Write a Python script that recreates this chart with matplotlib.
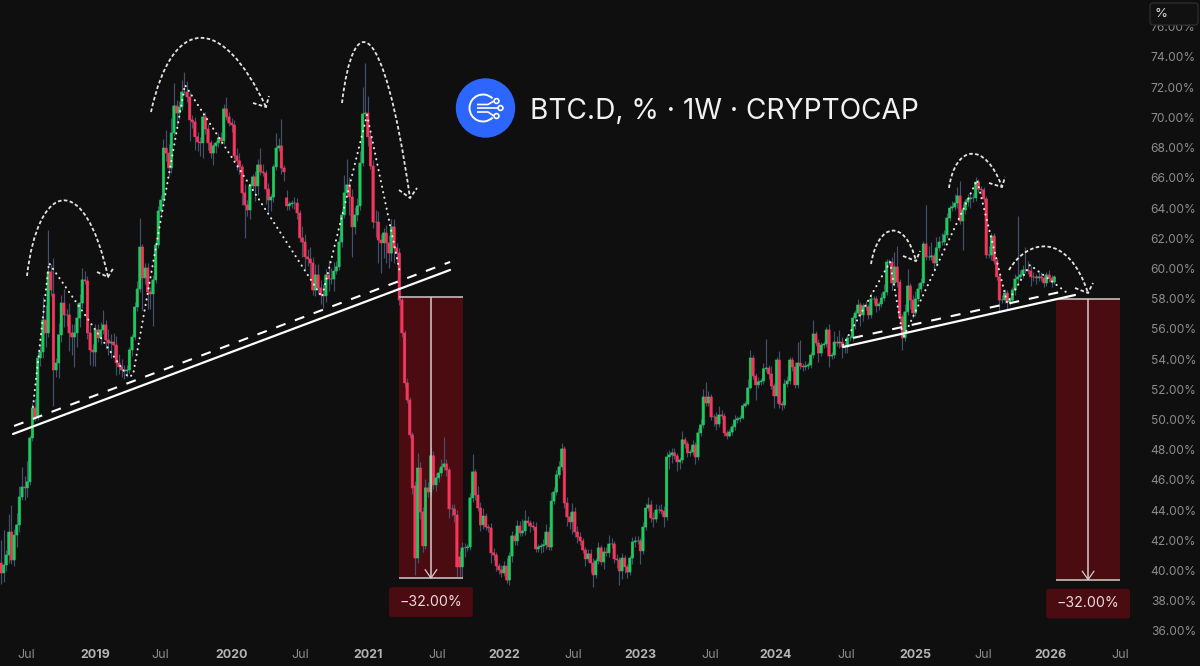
import numpy as np
import matplotlib
matplotlib.use("Agg")
import matplotlib.pyplot as plt
from matplotlib.patches import Circle, FancyBboxPatch, PathPatch, Rectangle, Arc
from matplotlib.path import Path
from matplotlib.transforms import Affine2D

# weekly closes of BTC.D, one row = 10 weeks
closes = [
    39.84, 40.37, 41.03, 42.55, 40.70, 42.35, 43.02, 44.87, 45.53, 45.47,
    45.87, 48.78, 50.76, 50.17, 54.07, 54.47, 56.59, 55.73, 59.77, 58.57,
    53.28, 53.74, 55.60, 57.71, 56.92, 56.92, 55.73, 55.46, 55.73, 56.72,
    57.71, 59.24, 59.17, 55.73, 54.60, 54.47, 55.93, 55.40, 55.93, 56.26,
    55.26, 55.06, 55.13, 54.93, 53.74, 53.48, 53.28, 53.21, 53.28, 54.60,
    55.46, 57.45, 58.64, 61.42, 59.37, 60.03, 58.44, 58.31, 59.24, 61.55,
    63.80, 64.53, 67.97, 67.64, 66.65, 68.97, 70.76, 70.29, 70.69, 71.68,
    71.68, 71.35, 69.83, 69.70, 68.71, 68.37, 68.31, 70.03, 69.23, 68.31,
    67.64, 68.11, 68.31, 68.64, 68.44, 70.56, 70.03, 69.63, 69.50, 67.45,
    67.12, 66.72, 65.00, 64.20, 63.87, 65.46, 66.06, 65.46, 66.85, 66.39,
    66.32, 65.26, 64.53, 64.73, 66.72, 67.97, 68.11, 66.65, 66.39, 64.14,
    64.27, 64.33, 64.33, 63.67, 62.02, 61.75, 60.76, 60.63, 60.36, 58.57,
    59.57, 58.71, 58.24, 58.18, 59.57, 59.30, 59.30, 59.83, 60.10, 61.75,
    63.54, 65.00, 65.53, 64.73, 62.75, 63.54, 64.14, 66.98, 70.23, 70.29,
    68.71, 66.78, 63.07, 63.07, 61.88, 61.69, 62.35, 61.69, 61.02, 62.75,
    61.36, 61.02, 57.91, 55.73, 52.42, 51.29, 48.98, 45.47, 40.83, 46.79,
    43.88, 41.63, 45.47, 45.20, 47.59, 45.67, 46.13, 46.46, 46.86, 47.06,
    46.66, 44.08, 44.08, 43.68, 40.24, 40.24, 41.50, 41.50, 41.56, 44.81,
    46.53, 45.00, 44.14, 43.02, 43.61, 42.88, 42.82, 41.17, 41.03, 40.30,
    40.04, 39.84, 40.30, 39.37, 40.96, 42.29, 41.96, 42.95, 42.49, 42.62,
    43.28, 43.15, 42.95, 42.88, 41.43, 41.56, 41.63, 41.70, 42.55, 41.56,
    44.60, 45.20, 46.33, 46.86, 48.05, 44.47, 43.55, 43.22, 43.88, 42.55,
    42.22, 41.96, 41.36, 40.77, 41.10, 40.50, 39.71, 40.64, 41.50, 40.57,
    41.23, 41.17, 41.76, 41.76, 40.77, 40.70, 39.97, 40.83, 40.24, 39.90,
    40.83, 41.89, 41.96, 41.96, 41.30, 42.88, 44.14, 44.34, 43.48, 43.41,
    44.01, 44.01, 43.94, 43.55, 47.52, 47.65, 47.79, 47.59, 47.19, 47.32,
    48.65, 48.38, 47.79, 47.85, 48.31, 47.52, 49.11, 49.64, 51.49, 51.09,
    51.49, 50.17, 50.17, 49.70, 50.30, 50.23, 49.11, 48.91, 49.17, 49.51,
    49.97, 50.04, 50.10, 50.90, 51.03, 52.09, 54.07, 52.88, 52.29, 52.49,
    52.55, 53.35, 53.41, 53.01, 52.22, 51.56, 53.94, 51.03, 50.96, 52.35,
    52.55, 53.94, 53.48, 52.29, 53.74, 53.54, 53.48, 53.54, 53.61, 54.27,
    55.66, 55.06, 54.40, 54.93, 55.00, 55.93, 54.20, 54.27, 55.13, 55.06,
    55.13, 54.80, 54.80, 55.40, 55.40, 56.72, 57.05, 57.58, 56.92, 57.52,
    57.45, 56.92, 57.98, 57.98, 57.52, 57.65, 58.04, 58.44, 60.43, 60.43,
    59.04, 60.10, 59.10, 56.79, 55.40, 57.12, 58.84, 57.91, 57.05, 57.98,
    58.64, 59.04, 61.62, 60.76, 60.76, 60.83, 60.36, 61.36, 61.75, 61.75,
    62.22, 63.34, 64.00, 64.07, 64.33, 64.80, 63.14, 63.87, 64.40, 64.60,
    64.67, 64.67, 65.72, 65.26, 65.20, 64.60, 60.89, 60.89, 62.15, 60.50,
    59.44, 57.91, 57.91, 58.37, 57.78, 57.91, 58.57, 59.30, 59.44, 59.57,
    59.90, 59.90, 59.83, 59.44, 59.44, 59.37, 59.44, 59.37, 59.04, 59.57,
    59.37, 59.10, 59.44,
]

# weeks whose open is not the previous close
open_gaps = {0: 40.50, 20: 58.30, 109: 64.67, 158: 45.60, 175: 40.90}

# wick length above / below the body, in percent points
wick_up = [
    1.5, 2.3, .3, 1.2, 1.8, .4, .8, .7, 1.3, .7,
    1.4, .2, .3, .6, .4, .5, 1.5, 1.0, 2.8, .5,
    2.4, .3, .8, .5, .9, .4, .8, .6, .6, 1.0,
    .6, .8, .6, .3, .5, .4, .4, .4, .5, 1.0,
    .3, .7, .5, .6, .6, .6, .5, .3, .3, .2,
    .2, .3, .5, 1.9, .2, .3, .3, .3, .3, .4,
    .3, .3, .6, 1.2, .6, 1.0, 1.5, .4, .4, .8,
    1.3, .7, .3, .3, .3, .3, .3, .3, .3, .3,
    .2, .2, .2, .3, .4, .3, .8, .3, .3, .3,
    .5, .5, .2, .6, .3, .2, .2, .4, .4, 1.1,
    .5, .2, .4, .2, .2, 1.0, .5, 1.8, .2, .5,
    .2, .2, .4, .3, .2, .8, .5, .5, .8, .4,
    .7, .7, .5, .7, .4, 1.0, .7, .6, .4, .4,
    .4, 1.2, 1.7, .5, .5, .5, .5, .8, 1.8, 3.3,
    1.1, .3, .4, .8, .7, .4, .3, .5, .5, .5,
    .5, .3, .3, .2, .2, .3, .2, .2, .3, 1.0,
    .4, .3, .6, .4, .6, .3, .3, .3, .5, 1.8,
    .3, .2, .3, .3, .3, .4, .4, .3, .2, .3,
    1.2, .2, .6, .4, .5, .2, .2, .3, .3, .2,
    .2, .3, .3, .5, .3, .3, .2, .4, .3, .8,
    .7, .3, .2, .3, .3, .2, .2, .4, .5, .3,
    .6, .3, .3, .4, .4, .2, .4, .3, .6, .3,
    .4, .3, .2, .2, .3, .3, .3, .2, .4, .2,
    .3, .3, .6, .4, .2, .3, .2, .3, .2, .2,
    .2, .3, .3, .3, .2, .3, .3, .5, .3, .4,
    .4, .3, .4, .3, .3, .3, .3, .3, .2, .2,
    .6, .2, .2, .2, .3, .2, .3, .4, .5, 1.0,
    .4, .2, .2, .3, .6, .3, .2, .2, .2, .2,
    .3, .2, .2, .2, .2, .6, .5, .2, .2, .3,
    .2, .4, 1.9, .2, .5, .2, .2, .6, .2, .3,
    .3, .2, .2, .3, 1.4, 1.5, .2, .3, .2, .2,
    .9, .2, .3, .2, .2, .2, .4, .2, .7, .4,
    .8, .3, .3, .2, .2, .2, .2, .4, .2, .2,
    .3, .2, .4, .2, .2, .2, .3, .5, .2, .2,
    .3, 1.0, 1.4, .2, .2, .5, 1.1, .2, .3, .5,
    .4, .3, .2, 2.6, .7, .9, .2, .7, .4, .6,
    .3, .3, .2, .4, .6, .6, 1.0, .4, .2, .3,
    .4, .3, .3, .2, .2, .2, .2, .6, .2, .2,
    .2, .2, .3, .3, .2, .2, .2, .3, 4.0, .3,
    .3, 1.5, .6, .3, .3, .2, .3, .3, .2, .2,
    .3, .2, .1,
]
wick_down = [
    .7, .6, .4, .5, .3, .4, .8, .5, .2, .8,
    .6, .2, .2, .3, .2, .5, .4, .9, .3, .4,
    2.4, .5, 1.0, .5, .8, .7, 1.2, 1.2, 2.0, .9,
    .6, .3, .2, .4, 1.0, .9, .9, .3, .4, .3,
    .6, .8, 1.0, .7, .8, .5, .5, .5, .4, .2,
    .4, .2, .3, .2, 2.1, .4, 1.1, 1.0, 2.1, .2,
    .2, .2, .2, .5, .5, .3, .2, .8, .4, .2,
    .2, .3, 1.4, .4, .9, .6, .9, 1.0, .3, .5,
    .3, .8, .5, .3, .2, .2, .2, .2, .5, .2,
    .6, .5, .8, 2.2, .4, .6, .2, 1.0, .6, .2,
    .2, 1.0, .8, .7, .3, .2, .2, .4, .6, .3,
    .3, .3, .4, .4, .3, 1.0, .8, .5, 1.0, .3,
    .4, .4, .6, .8, .4, .8, .3, .8, .2, .2,
    .3, .2, .2, 1.2, 2.0, .5, .4, .3, .2, .2,
    .6, .2, .4, 1.0, 1.5, 2.0, 1.0, 1.3, 1.0, .5,
    1.0, .6, .3, .3, .3, .2, .2, .4, 1.1, .3,
    .5, .4, .2, .3, .2, .3, .4, .3, .2, .2,
    .4, .6, .5, .5, .7, .6, .7, .6, .2, .2,
    .3, .3, .2, .4, .3, .2, .3, .7, .3, .3,
    .3, .3, .2, .2, .3, .4, .3, .3, .2, .2,
    .3, .2, .4, .2, .2, .2, .4, .4, .3, .2,
    .2, .2, .2, .2, .2, .3, .6, .5, .8, .3,
    .4, .3, .2, .5, .2, .6, .8, .2, .2, .2,
    .5, .2, .3, .3, .3, .5, .9, .5, .4, .4,
    .2, .4, .3, .2, .9, .2, .2, .2, .3, .5,
    .2, .2, .2, .7, .2, .8, .5, .2, .6, .5,
    .2, .3, .3, .2, .2, .5, .2, .2, .2, .2,
    .2, .2, .6, .4, .2, .2, .2, .2, .1, .2,
    .2, .2, .2, .1, .1, .1, .1, .2, 1.0, .2,
    .2, .2, .2, .3, .2, .8, .5, .3, .3, .2,
    .2, .2, .3, .2, .2, .2, .3, .2, .2, .2,
    .2, .2, .6, .2, .2, .2, .7, .2, .2, .2,
    .3, .7, .4, .4, .2, .2, .7, .2, .7, .4,
    .2, .3, .2, .3, .4, .3, .2, .2, .2, .2,
    .5, .2, .3, .3, .8, .2, .2, .6, .3, .2,
    .2, .2, .2, .2, .2, .2, .5, .2, .2, .2,
    .2, .2, .2, .2, .2, .3, .2, 1.9, .3, .3,
    .6, .3, .2, .2, .3, .2, .2, .2, .3, .2,
    .2, .8, .2, .2, .5, .2, .2, .3, .3, .2,
    .2, .2, .2, .6, .3, .4, .2, .2, .3, .2,
    .3, .3, .1,
]

y_ticks = list(range(36, 78, 2))
x_tick_weeks = [9.5, 35.9, 60.7, 88.2, 114.1, 140.1, 166.4, 192, 218.3, 243.9,
                270.6, 295.8, 322.5, 348.9, 374.8, 400.4, 427.1]
x_tick_labels = ["Jul", "2019", "Jul", "2020", "Jul", "2021", "Jul", "2022", "Jul", "2023",
                 "Jul", "2024", "Jul", "2025", "Jul", "2026", "Jul"]

# hand drawn lines on the chart: (week, percent)
solid_lines = [[(4.6, 49.04), (171.4, 59.90)], [(321.4, 54.80), (409.9, 58.24)]]
dashed_lines = [[(5.0, 49.57), (171.4, 60.43)], [(325.2, 55.40), (406.1, 58.51)]]
dotted_left = [(12.2, 50.83), (18.3, 60.36), (48.5, 52.81), (50.4, 52.95), (70.2, 72.15),
               (122.5, 58.11), (139.7, 70.16), (152.3, 59.70)]
dotted_right = [(321.4, 54.93), (339.3, 60.43), (344.3, 55.40), (372.5, 65.86),
                (384.0, 57.71), (392.7, 60.23), (406.9, 58.38)]
# measure boxes: left week, right week, top, bottom
boxes = [(151.9, 176.3, 58.08, 39.50), (402.7, 427.1, 58.00, 39.40)]
box_label = "\u221232.00%"

BG = "#0f0f0f"
GREEN = "#1fca60"
RED = "#f8365c"
WICK = "#46506a"
BOX = "#4a0b11"

plt.rcParams["font.family"] = ["Inter", "DejaVu Sans"]

fig = plt.figure(figsize=(12, 6.66), dpi=100, facecolor=BG)
ax = fig.add_axes([0, 0, 1, 1], facecolor=BG)
ax.set_xlim(-0.38, 457.6)
ax.set_ylim(33.68, 77.77)
for s in ax.spines.values():
    s.set_visible(False)

# pixel coordinates of the reference, for the curved arrows and the logo
px = Affine2D().scale(1 / 1200, -1 / 666).translate(0, 1) + fig.transFigure

# candles
closes = np.array(closes)
opens = np.r_[closes[0], closes[:-1]]
for k, v in open_gaps.items():
    opens[k] = v
weeks = np.arange(len(closes))
tops = np.maximum(opens, closes)
bots = np.minimum(opens, closes)
cols = [RED if c < o else GREEN for o, c in zip(opens, closes)]

ax.vlines(weeks, bots - np.array(wick_down), tops + np.array(wick_up), color=WICK, lw=0.85, zorder=3)
bars = ax.bar(weeks, tops - bots, bottom=bots, width=0.88, color=cols, edgecolor=cols, linewidth=0.45, zorder=4)
for b in bars:
    b.set_snap(False)

# measure boxes
for left, right, top, bottom in boxes:
    ax.add_patch(Rectangle((left, bottom), right - left, top - bottom, fc=BOX, ec="none", zorder=1))
    mid = (left + right) / 2
    ax.hlines([top, bottom], left, right, color="#b9aeae", lw=1.3, zorder=5)
    ax.vlines(mid, bottom, top, color="#d9caca", lw=1.1, zorder=5)
    ax.plot([mid - 2.2, mid, mid + 2.2], [bottom + 0.55, bottom, bottom + 0.55], color="#d9caca", lw=0.9, zorder=5)
    # label under the box
    ax.add_patch(FancyBboxPatch((mid - 16.0, bottom - 2.58), 32.0, 1.98, boxstyle="round,pad=0.0,rounding_size=1.3",
                                mutation_aspect=0.17, fc=BOX, ec="none", zorder=5))
    ax.text(mid, bottom - 1.58, box_label, color="#ecdcdc", fontsize=10.2, ha="center", va="center", zorder=6)

# trend lines
for line in solid_lines:
    ax.plot(*zip(*line), color="white", lw=1.6, zorder=6, solid_capstyle="round")
for line in dashed_lines:
    ax.plot(*zip(*line), color="white", lw=1.5, ls=(0, (4.8, 4.8)), zorder=6)
for line in (dotted_left, dotted_right):
    ax.plot(*zip(*line), color="#e8e8e8", lw=1.5, ls=(0, (0.1, 2.6)), dash_capstyle="round", zorder=6)

# dashed arcs with arrow heads, reference pixels
arcs = [
    [(27, 276), (38, 180), (85, 170), (108, 277)],
    [(151, 112), (172, 15), (222, 13), (266, 107)],
    [(342, 103), (353, 10), (383, 10), (410, 198)],
    [(871, 264), (878, 222), (905, 218), (916, 261)],
    [(949, 188), (955, 145), (985, 140), (1002, 187)],
    [(1009, 270), (1028, 238), (1068, 232), (1088, 293)],
]
heads = [
    [(97, 272), (108, 277), (114, 267)],
    [(253, 103), (266, 107), (269, 96)],
    [(399, 190), (410, 198), (417, 188)],
    [(903, 256), (916, 261), (920, 251)],
    [(989, 183), (1002, 187), (1005, 177)],
    [(1075, 288), (1088, 293), (1093, 283)],
]
for a, h in zip(arcs, heads):
    ax.add_patch(PathPatch(Path(a, [Path.MOVETO, Path.CURVE4, Path.CURVE4, Path.CURVE4]), fc="none", ec="#e4e4e4",
                           lw=1.3, ls=(0, (2.0, 1.3)), transform=px, zorder=6, clip_on=False))
    ax.add_patch(PathPatch(Path(h), fc="none", ec="#e4e4e4", lw=1.3, ls=(0, (2.0, 1.3)), transform=px, zorder=6,
                           clip_on=False))

# logo and title
ax.add_patch(Circle((485.5, 108), 29.7, fc="#2d66ff", ec="none", transform=px, zorder=7))
ax.add_patch(Arc((483, 108), 27, 27, theta1=45, theta2=315, ec="white", lw=1.4, transform=px, zorder=8))
for y0, x1 in [(101, 494), (108, 498), (116, 494)]:
    ax.add_patch(PathPatch(Path([(477, y0 + (108 - y0) * 0.5), (x1 - 6, y0 + (108 - y0) * 0.5), (x1, y0)]), fc="none",
                           ec="white", lw=1.2, transform=px, zorder=8))
    ax.add_patch(Circle((x1 + 2.5, y0), 2.4, fc="#2d66ff", ec="white", lw=1.2, transform=px, zorder=8))
ax.text(530, 111, "BTC.D, % \u00b7 1W \u00b7 CRYPTOCAP", color="#f2f2f2", fontsize=20.2, va="center", ha="left",
        transform=px, zorder=8)

# axes, the labels sit inside the picture
ax.yaxis.tick_right()
ax.set_yticks(y_ticks)
ax.set_yticklabels(["%.2f%%" % v for v in y_ticks])
ax.set_xticks(x_tick_weeks)
ax.set_xticklabels(x_tick_labels)
ax.tick_params(axis="y", length=0, pad=-35.5, labelsize=8.6, labelcolor="#8c8c8c")
ax.tick_params(axis="x", length=0, pad=-12.5, labelsize=9, labelcolor="#8c8c8c")
for t in ax.get_xticklabels():
    if t.get_text() != "Jul":
        t.set_fontweight("bold")
        t.set_color("#b4b4b4")

# unit button over the top tick
ax.add_patch(FancyBboxPatch((1150, 3), 48, 22, boxstyle="round,pad=0,rounding_size=3", fc="#111111", ec="#2b2b2b",
                            lw=1, transform=px, zorder=9, clip_on=False))
ax.text(1161, 14, "%", color="#d8d8d8", fontsize=9.5, ha="center", va="center", transform=px, zorder=10)

fig.savefig("out.png", dpi=100, facecolor=BG)
